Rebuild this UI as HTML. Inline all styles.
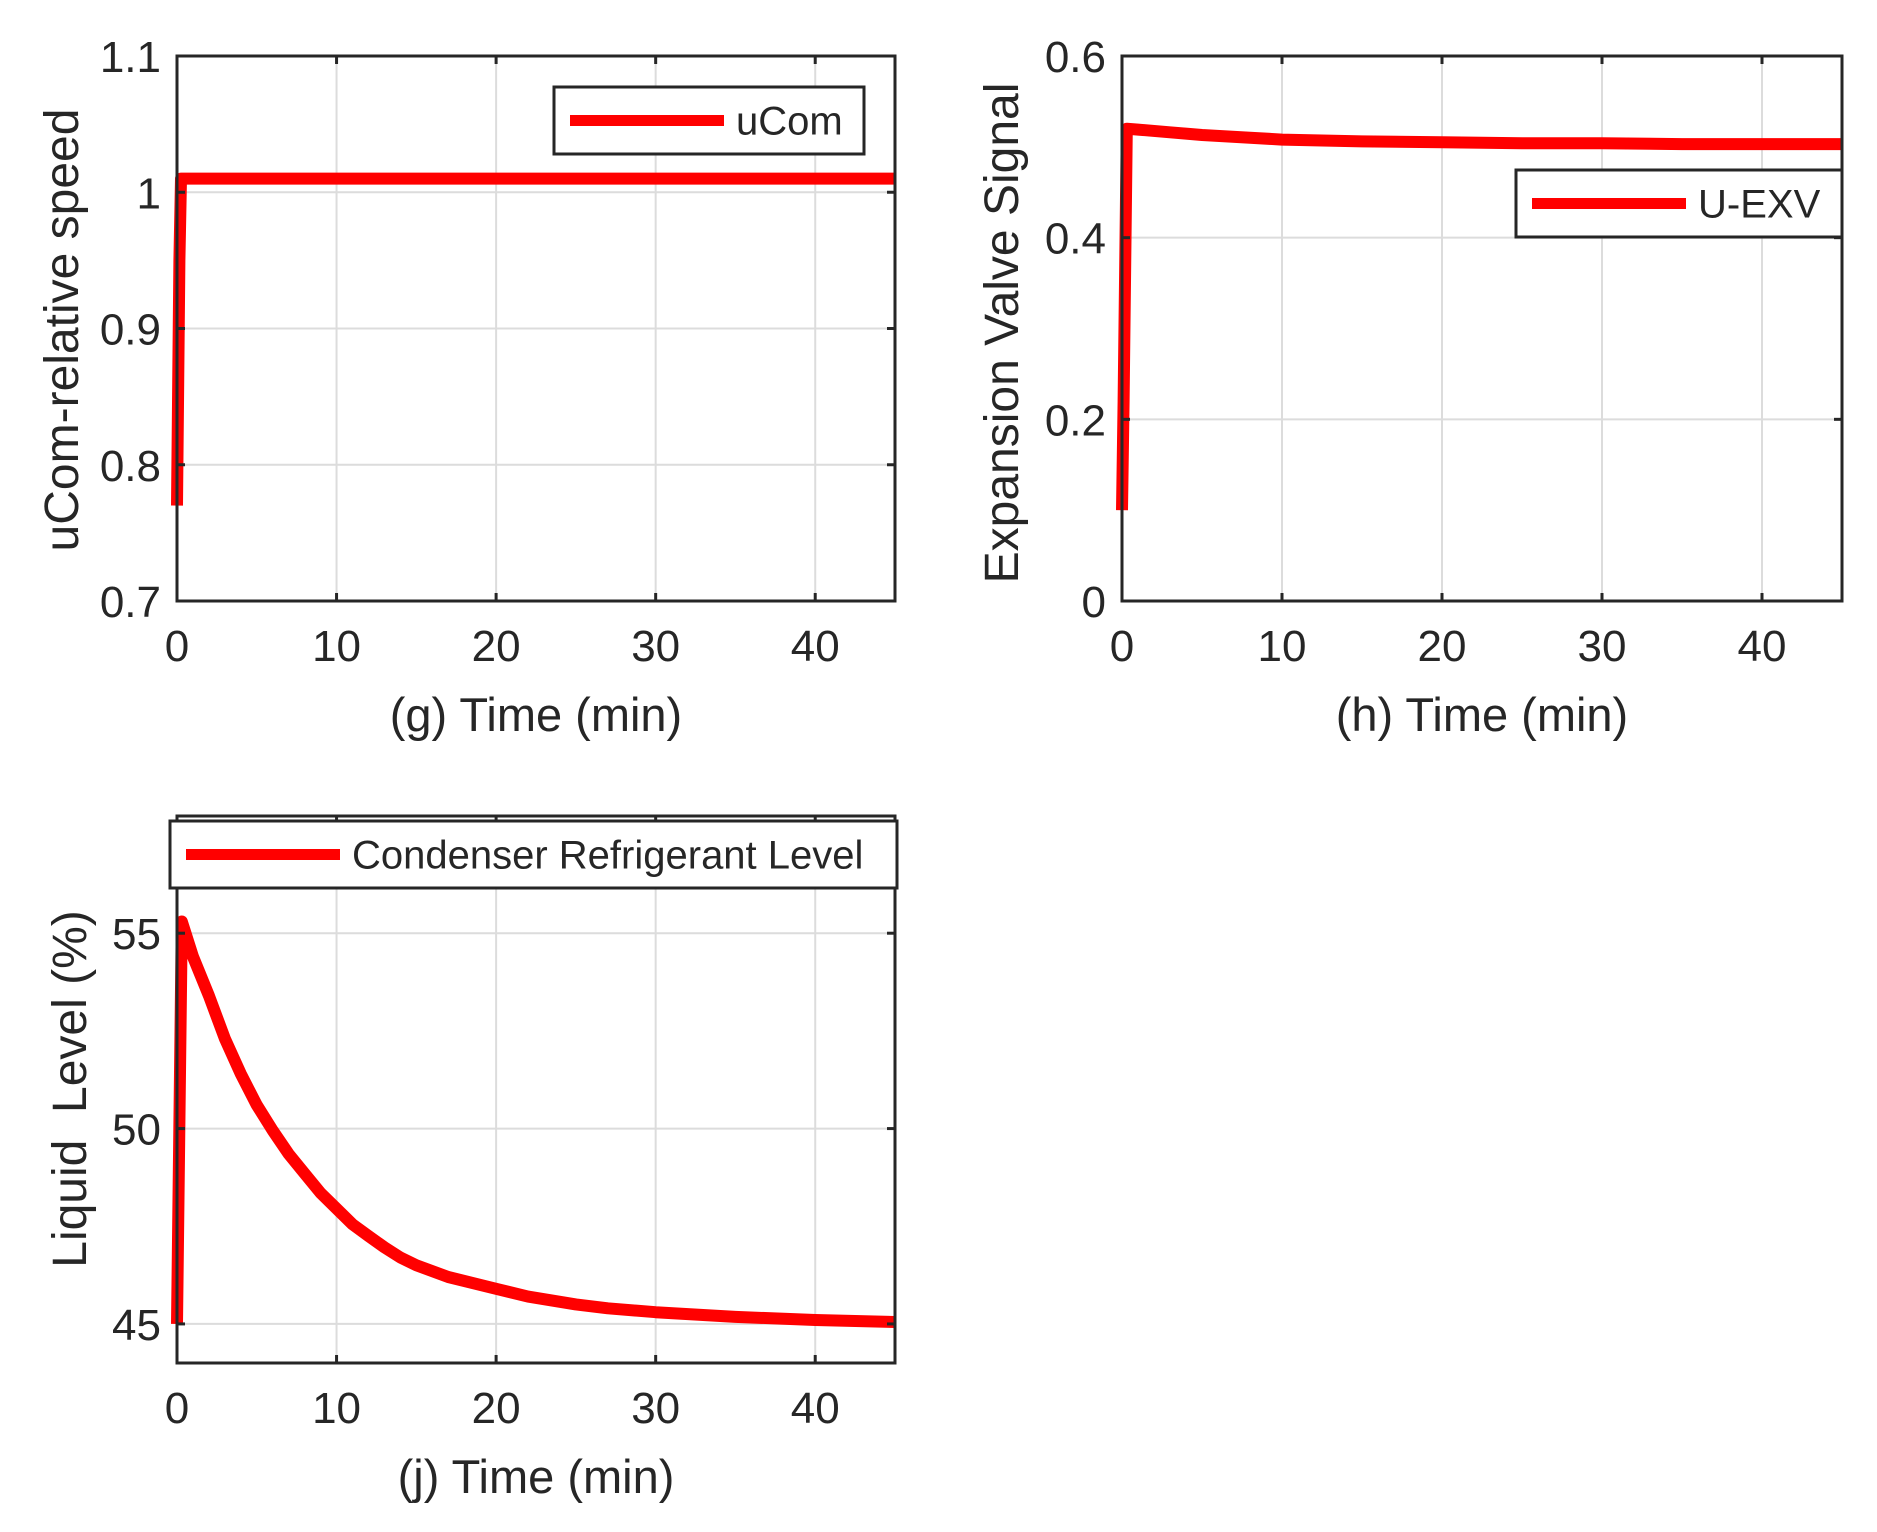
<!DOCTYPE html>
<html><head><meta charset="utf-8"><style>
html,body{margin:0;padding:0;background:#fff}
svg{display:block}
text{font-family:"Liberation Sans",Arial,sans-serif;fill:#262626;white-space:pre}
</style></head><body>
<svg id="fig" width="1877" height="1532" viewBox="0 0 1877 1532" xmlns="http://www.w3.org/2000/svg"></svg>
<script>
// Panel g: compressor speed
const gTime = [0, 0.15, 0.25, 45];
const gValues = [0.77, 0.95, 1.01, 1.01];
const gYTicks = [0.7, 0.8, 0.9, 1.0, 1.1];
const gYTickLabels = ['0.7', '0.8', '0.9', '1', '1.1'];
// Panel h: expansion valve
const hTime = [0, 0.1, 0.3, 1, 3, 5, 8, 10, 15, 20, 25, 30, 35, 40, 45];
const hValues = [0.1, 0.22, 0.52, 0.519, 0.516, 0.513, 0.510, 0.508, 0.506, 0.505, 0.504, 0.504, 0.503, 0.503, 0.503];
const hYTicks = [0, 0.2, 0.4, 0.6];
const hYTickLabels = ['0', '0.2', '0.4', '0.6'];
// Panel j: condenser level
const jTime = [0, 0.3, 1, 2, 3, 4, 5, 6, 7, 8, 9, 10, 11, 12, 13, 14, 15, 17, 20, 22, 25, 27, 30, 35, 40, 45];
const jValues = [45, 55.3, 54.4, 53.4, 52.3, 51.4, 50.6, 49.95, 49.35, 48.85, 48.35, 47.95, 47.55, 47.25, 46.96, 46.7, 46.5, 46.2, 45.9, 45.7, 45.5, 45.4, 45.3, 45.18, 45.1, 45.05];
const jYTicks = [45, 50, 55];
const jYTickLabels = ['45', '50', '55'];
const xTicks = [0, 10, 20, 30, 40];
const xTickLabels = ['0', '10', '20', '30', '40'];

const NS = 'http://www.w3.org/2000/svg';
const svg = document.getElementById('fig');
function mk(tag, attrs, parent, txt) {
  const e = document.createElementNS(NS, tag);
  for (const k in attrs) e.setAttribute(k, attrs[k]);
  if (txt !== undefined) e.textContent = txt;
  (parent || svg).appendChild(e);
  return e;
}

function panel(o) {
  const g = mk('g', {});
  
  
  const X = t => o.L + (t - 0) / 45 * (o.R - o.L);
  const Y = v => o.B - (v - o.ymin) / (o.ymax - o.ymin) * (o.B - o.T);
  xTicks.forEach(t => {
    const l = mk('line', {x1: X(t), x2: X(t), y1: o.T, y2: o.B, stroke: '#dcdcdc', 'stroke-width': 2}, g);
    
    
  });
  o.yt.forEach(v => {
    const l = mk('line', {x1: o.L, x2: o.R, y1: Y(v), y2: Y(v), stroke: '#dcdcdc', 'stroke-width': 2}, g);
    
    
  });
  const pts = o.t.map((t, i) => X(t).toFixed(1) + ',' + Y(o.v[i]).toFixed(1)).join(' ');
  const pl = mk('polyline', {points: pts, fill: 'none', stroke: '#ff0000', 'stroke-width': 12, 'stroke-linejoin': 'round'}, g);
  
  
  const box = mk('rect', {x: o.L, y: o.T, width: o.R - o.L, height: o.B - o.T, fill: 'none', stroke: '#262626', 'stroke-width': 3}, g);
  
  
  xTicks.forEach((t, i) => {
    mk('line', {x1: X(t), x2: X(t), y1: o.B, y2: o.B - 8, stroke: '#262626', 'stroke-width': 3}, g);
    mk('line', {x1: X(t), x2: X(t), y1: o.T, y2: o.T + 8, stroke: '#262626', 'stroke-width': 3}, g);
    const tx = mk('text', {x: X(t), y: o.B + 60, 'font-size': 44, 'text-anchor': 'middle'}, g, xTickLabels[i]);
    
    
  });
  o.yt.forEach((v, i) => {
    mk('line', {x1: o.L, x2: o.L + 8, y1: Y(v), y2: Y(v), stroke: '#262626', 'stroke-width': 3}, g);
    mk('line', {x1: o.R, x2: o.R - 8, y1: Y(v), y2: Y(v), stroke: '#262626', 'stroke-width': 3}, g);
    const tx = mk('text', {x: o.L - 16, y: Y(v) + 16, 'font-size': 44, 'text-anchor': 'end'}, g, o.ytl[i]);
    
    
  });
  const xl = mk('text', {x: (o.L + o.R) / 2, y: o.B + 130, 'font-size': 47, 'text-anchor': 'middle'}, g, o.xlabel);
  
  
  const yl = mk('text', {x: 0, y: 0, 'font-size': 48, 'text-anchor': 'middle', transform: `translate(${o.ylx},${o.yly}) rotate(-90)`}, g, o.ylabel);
  
  
  const lg = mk('g', {}, g);
  
  
  mk('rect', {x: o.lg[0], y: o.lg[1], width: o.lg[2] - o.lg[0], height: o.lg[3] - o.lg[1], fill: '#fff', stroke: '#262626', 'stroke-width': 3}, lg);
  const cy = (o.lg[1] + o.lg[3]) / 2;
  mk('line', {x1: o.lg[0] + 16, x2: o.lg[0] + 170, y1: cy, y2: cy, stroke: '#ff0000', 'stroke-width': 11}, lg);
  const lt = mk('text', {x: o.lg[0] + 182, y: cy + 14, 'font-size': 40}, lg, o.legend);
  
  
}

panel({name: 'panel-g-ucom', series: 'ucom-line', L: 177, R: 895, T: 56, B: 601, ymin: 0.7, ymax: 1.1,
  t: gTime, v: gValues, yt: gYTicks, ytl: gYTickLabels, xlabel: '(g) Time (min)', ylabel: 'uCom-relative speed',
  ylx: 78, yly: 330, lg: [554, 87, 864, 154], legend: 'uCom'});
panel({name: 'panel-h-exv', series: 'u-exv-line', L: 1122, R: 1842, T: 56, B: 601, ymin: 0, ymax: 0.6,
  t: hTime, v: hValues, yt: hYTicks, ytl: hYTickLabels, xlabel: '(h) Time (min)', ylabel: 'Expansion Valve Signal',
  ylx: 1018, yly: 333, lg: [1516, 170, 1842, 237], legend: 'U-EXV'});
panel({name: 'panel-j-level', series: 'condenser-level-line', L: 177, R: 895, T: 816, B: 1363, ymin: 44, ymax: 58,
  t: jTime, v: jValues, yt: jYTicks, ytl: jYTickLabels, xlabel: '(j) Time (min)', ylabel: 'Liquid  Level (%)',
  ylx: 86, yly: 1089, lg: [170, 821, 897, 888], legend: 'Condenser Refrigerant Level'});
</script>
</body></html>
